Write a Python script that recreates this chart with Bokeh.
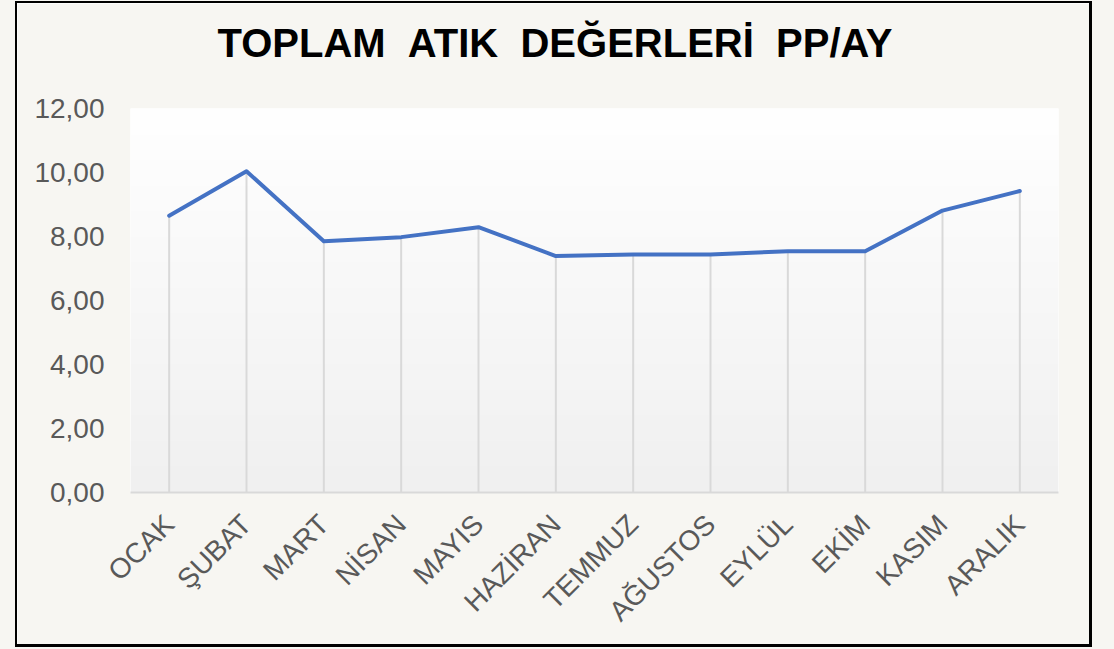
import numpy as np
from bokeh.plotting import figure
from bokeh.models import FixedTicker, Title
from bokeh.embed import file_html
from bokeh.resources import INLINE

months = ["OCAK", "ŞUBAT", "MART", "NİSAN", "MAYIS", "HAZİRAN",
          "TEMMUZ", "AĞUSTOS", "EYLÜL", "EKİM", "KASIM", "ARALIK"]
values = [8.65, 10.04, 7.85, 7.98, 8.29, 7.39, 7.44, 7.44, 7.54, 7.54, 8.81, 9.42]
y_ticks = [0, 2, 4, 6, 8, 10, 12]
y_labels = ["0,00", "2,00", "4,00", "6,00", "8,00", "10,00", "12,00"]
title_text = "TOPLAM \u00a0ATIK \u00a0DEĞERLERİ \u00a0PP/AY"

BEIGE = "#f7f6f2"
FONT = "Liberation Sans"
x = list(range(len(months)))

p = figure(width=1077, height=646, x_range=(-0.5, len(months) - 0.5), y_range=(0, 12),
           output_backend="svg", toolbar_location=None, title=None,
           min_border_left=113, min_border_right=36, min_border_top=105, min_border_bottom=157)
p.styles = {"border-style": "solid", "border-color": "#000000",
            "border-width": "2px 3px 3px 2px", "box-sizing": "border-box",
            "position": "relative", "top": "1px", "left": "15px",
            "box-shadow": "0 0 0 40px " + BEIGE}
p.border_fill_color = BEIGE
p.background_fill_color = "#ffffff"
p.outline_line_color = None

# spacer between frame and title (first added = closest to the frame)
p.add_layout(Title(text="\u00a0", text_font_size="2px", text_color=BEIGE, standoff=40), "above")
p.add_layout(Title(text=title_text, align="left", offset=87, text_font=FONT, text_font_size="40px",
                   text_font_style="bold", text_color="#000000", standoff=0), "above")

# vertical gradient background (white -> light grey)
n = 256
t = np.linspace(0, 1, n)  # 0 bottom, 1 top
c = (240 + 15 * t).astype(np.uint32)
img = (np.uint32(255) << 24) | (c << 16) | (c << 8) | c
img = img.astype(np.uint32).reshape(n, 1)
p.image_rgba(image=[img], x=-0.5, y=0, dw=len(months), dh=12)

# drop lines
p.segment(x0=x, y0=[0] * len(x), x1=x, y1=values, line_color="#d9d9d9", line_width=2)
p.line(x, values, line_color="#4472c4", line_width=4, line_join="round", line_cap="round")

p.xgrid.visible = False
p.ygrid.visible = False

p.xaxis.ticker = FixedTicker(ticks=x)
p.xaxis.major_label_overrides = {i: m for i, m in zip(x, months)}
p.xaxis.major_label_orientation = np.pi / 4
p.xaxis.axis_line_color = "#d9d9d9"
p.xaxis.axis_line_width = 2
p.xaxis.major_tick_line_color = None
p.xaxis.minor_tick_line_color = None
p.xaxis.major_tick_out = 0
p.xaxis.major_label_text_font = FONT
p.xaxis.major_label_text_font_size = "28px"
p.xaxis.major_label_text_color = "#595959"
p.xaxis.major_label_standoff = 27

p.yaxis.ticker = FixedTicker(ticks=y_ticks)
p.yaxis.major_label_overrides = {v: l for v, l in zip(y_ticks, y_labels)}
p.yaxis.axis_line_color = None
p.yaxis.major_tick_line_color = None
p.yaxis.minor_tick_line_color = None
p.yaxis.major_tick_out = 0
p.yaxis.major_label_text_font = FONT
p.yaxis.major_label_text_font_size = "28px"
p.yaxis.major_label_text_color = "#595959"
p.yaxis.major_label_standoff = 26

open("out.html", "w").write(file_html(p, INLINE))
